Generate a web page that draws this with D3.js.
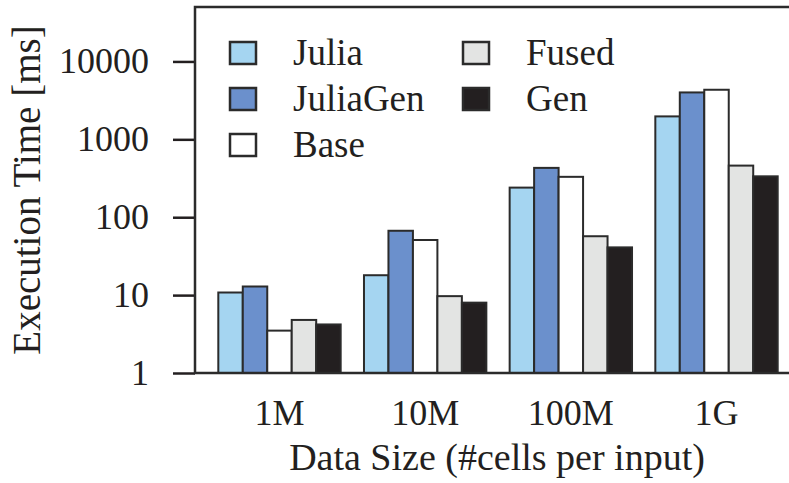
<!DOCTYPE html>
<html>
<head>
<meta charset="utf-8">
<script src="https://cdn.jsdelivr.net/npm/d3@7"></script>
<style>
  body { margin: 0; background: #fff; }
  text { font-family: "Liberation Serif", "Times New Roman", serif; fill: #231f20; }
</style>
</head>
<body>
<div id="chart"></div>
<script>
// data
const sizes = ["1M", "10M", "100M", "1G"];
const series = ["Julia", "JuliaGen", "Base", "Fused", "Gen"];
const julia    = [10.8, 18, 240, 1970];
const juliaGen = [12.9, 67, 430, 4000];
const base     = [3.5, 51, 330, 4330];
const fused    = [4.8, 9.7, 57, 460];
const gen      = [4.2, 8.0, 41, 335];
const yTicks = [1, 10, 100, 1000, 10000];

const values = [julia, juliaGen, base, fused, gen];
const colors = ["#a5d5f1", "#6b90cc", "#ffffff", "#e3e4e3", "#231f20"];

const W = 789, H = 483;
const plotL = 195, plotT = 7, plotB = 373, plotR = 801;

const svg = d3.select("#chart").append("svg")
  .attr("width", W).attr("height", H);

const x0 = d3.scaleBand()
  .domain(sizes)
  .range([plotL, plotR])
  .paddingInner(0.16)
  .paddingOuter(0.16);

const x1 = d3.scaleBand()
  .domain(series)
  .range([0, x0.bandwidth()]);

const y = d3.scaleLog()
  .domain([1, 50000])
  .range([plotB, plotT]);

// bars
const rows = [];
sizes.forEach((s, i) => {
  series.forEach((k, j) => rows.push({size: s, key: k, value: values[j][i], color: colors[j]}));
});

svg.append("g").selectAll("rect")
  .data(rows)
  .enter().append("rect")
  .attr("x", d => x0(d.size) + x1(d.key))
  .attr("y", d => y(d.value))
  .attr("width", x1.bandwidth())
  .attr("height", d => y(1) - y(d.value))
  .attr("fill", d => d.color)
  .attr("stroke", "#2b2b2b")
  .attr("stroke-width", 2);

// y axis
const yAxis = svg.append("g")
  .attr("transform", `translate(${plotL},0)`)
  .call(d3.axisLeft(y).tickValues(yTicks).tickFormat(d3.format("d")).tickSize(22).tickPadding(24));
yAxis.select(".domain").remove();
yAxis.selectAll("line").attr("stroke", "#231f20").attr("stroke-width", 2.5);
yAxis.selectAll("text").style("font-size", "36px").style("font-family", "'Liberation Serif', serif").attr("fill", "#231f20");

// x labels, no tick marks
svg.append("g").selectAll("text")
  .data(sizes)
  .enter().append("text")
  .attr("x", d => x0(d) + x0.bandwidth() / 2)
  .attr("y", 425)
  .attr("text-anchor", "middle")
  .style("font-size", "36px")
  .text(d => d);

// frame
svg.append("path")
  .attr("d", `M${W + 10},${plotT}H${plotL}V${plotB}H${W + 10}`)
  .attr("fill", "none")
  .attr("stroke", "#2b2b2b")
  .attr("stroke-width", 2.5);

// axis titles
svg.append("text")
  .attr("x", 497).attr("y", 470)
  .attr("text-anchor", "middle")
  .style("font-size", "38px")
  .text("Data Size (#cells per input)");

svg.append("text")
  .attr("transform", `translate(40,${(plotT + plotB) / 2}) rotate(-90)`)
  .attr("text-anchor", "middle")
  .style("font-size", "39px")
  .text("Execution Time [ms]");

// legend, two columns
const legend = svg.append("g").selectAll("g")
  .data(series)
  .enter().append("g")
  .attr("transform", (d, i) => {
    const col = i < 3 ? 0 : 1;
    const row = i < 3 ? i : i - 3;
    return `translate(${col ? 463 : 230},${42 + row * 46})`;
  });

legend.append("rect")
  .attr("width", 26).attr("height", 22)
  .attr("fill", (d, i) => colors[i])
  .attr("stroke", "#2b2b2b")
  .attr("stroke-width", 2.5);

legend.append("text")
  .attr("x", 63)
  .attr("y", 23)
  .style("font-size", "37px")
  .text(d => d);
</script>
</body>
</html>
